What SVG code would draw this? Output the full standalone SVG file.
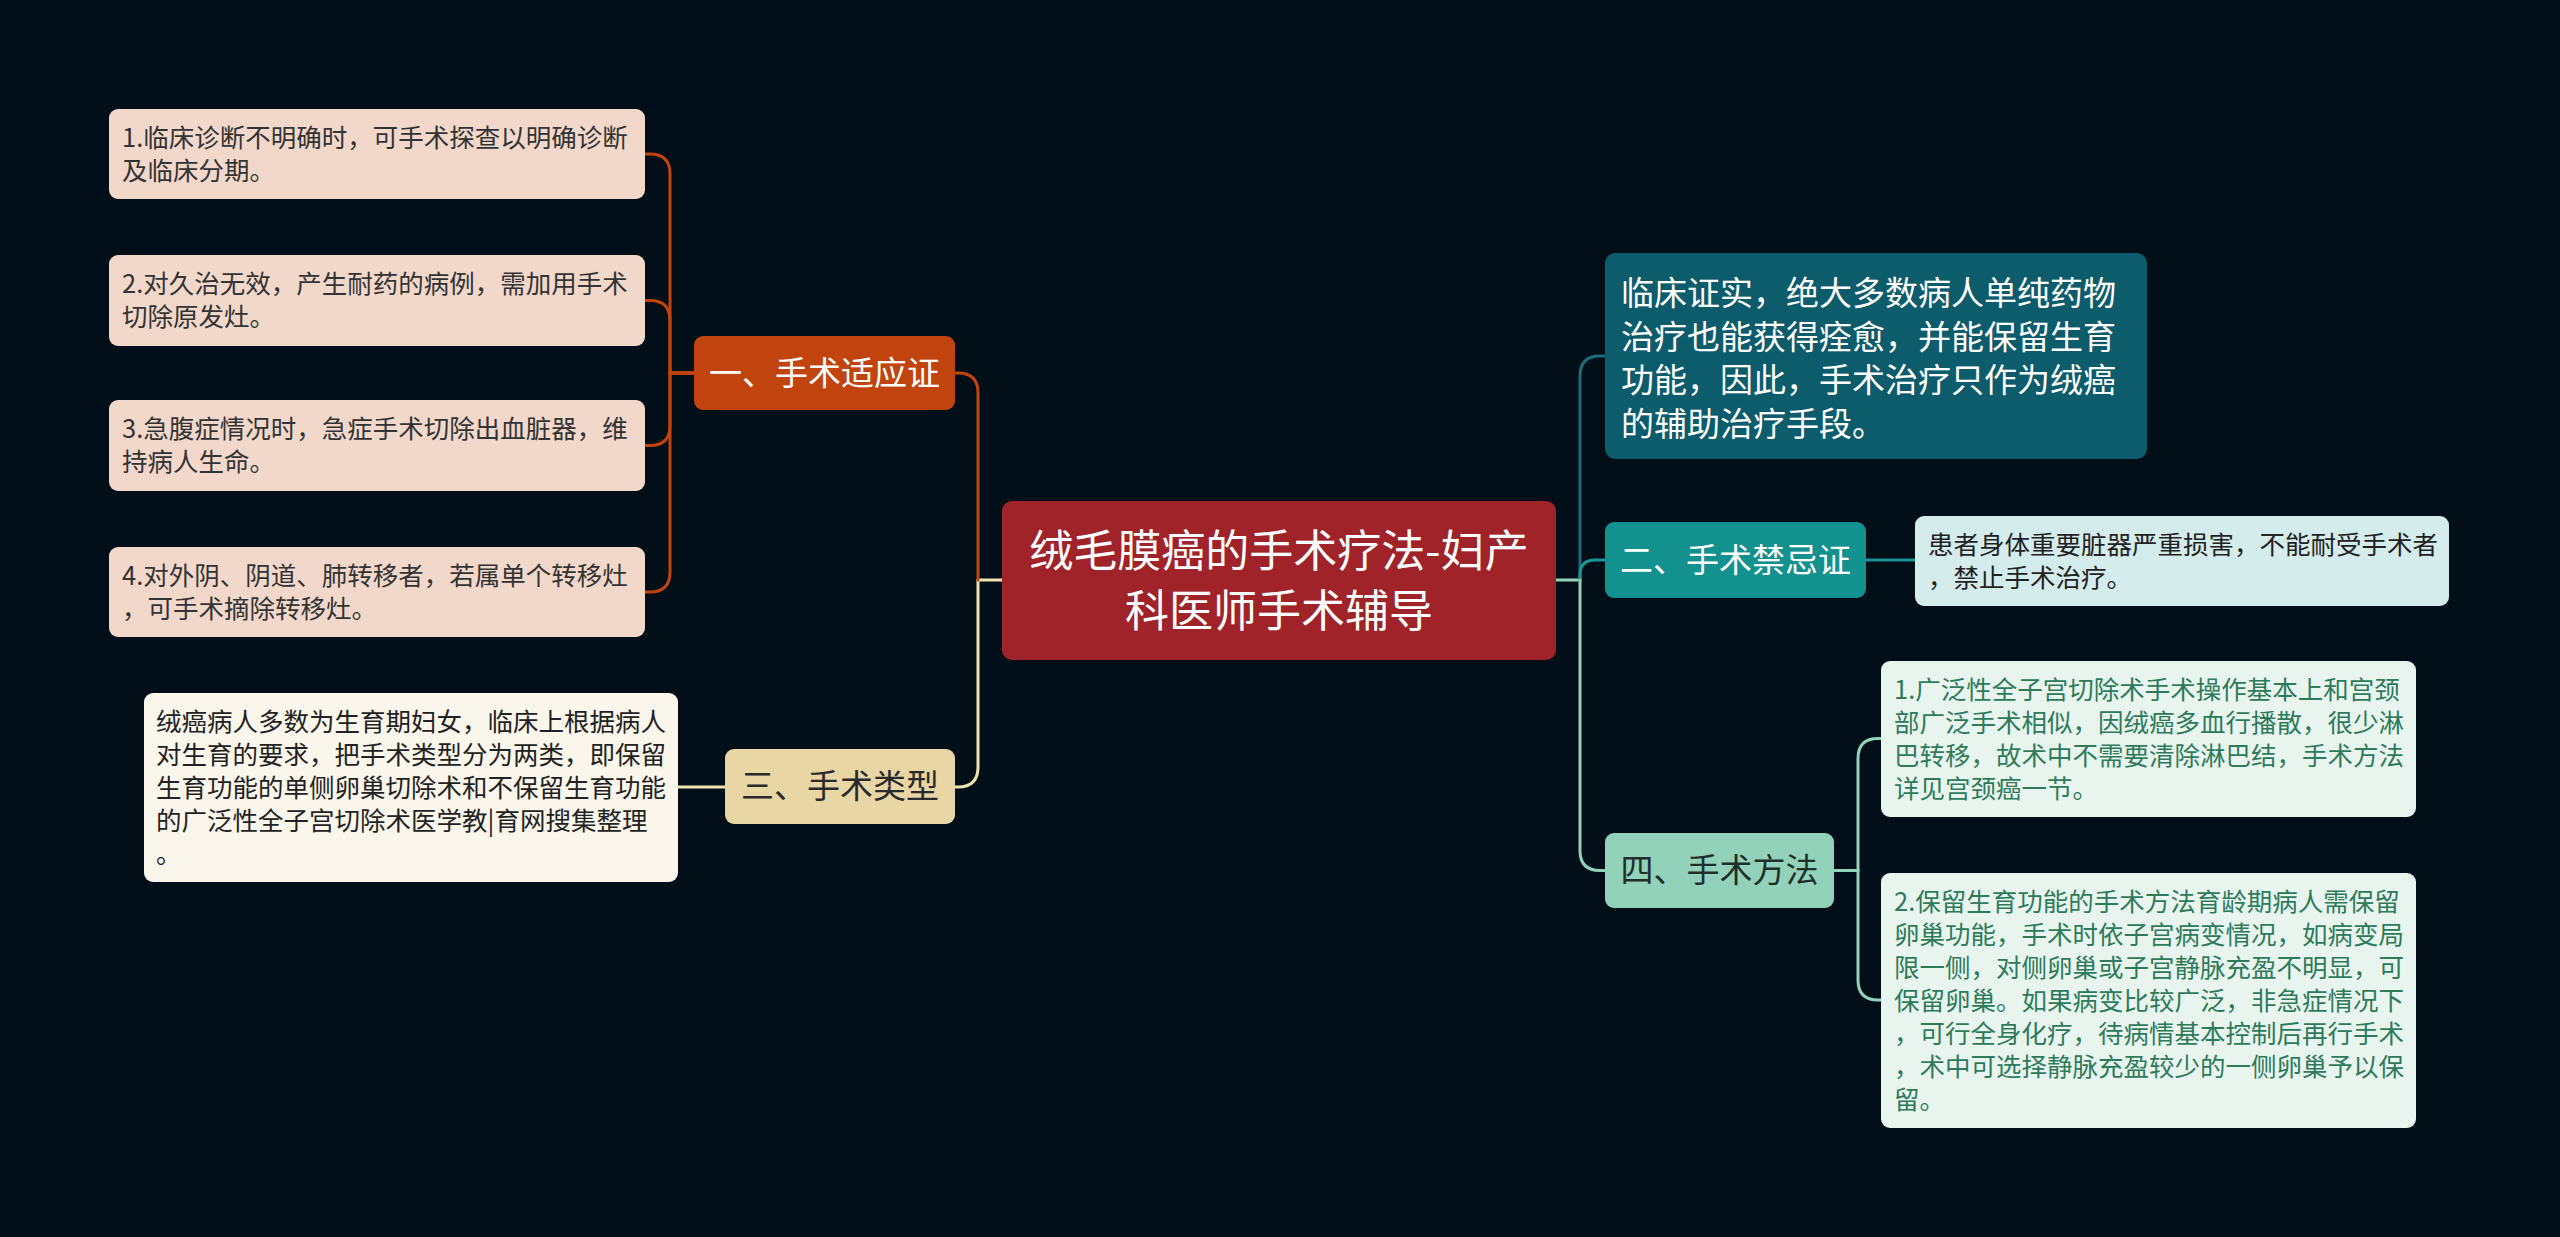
<svg xmlns="http://www.w3.org/2000/svg" width="2560" height="1237" viewBox="0 0 2560 1237">
<style>
text{font-family:"Noto Sans CJK SC","Noto Sans",sans-serif;}
.c{fill:none;stroke-width:3;stroke-linecap:round;}
.t26{font-size:25.5px;}
.node{font-size:33px;text-anchor:middle;}
</style>
<rect x="0" y="0" width="2560" height="1237" fill="#020F18"/>
<g id="connectors">
<path class="c" stroke="#F0E3B2" d="M1002,580 H978"/>
<path class="c" stroke="#F0E3B2" d="M978,580 V767 Q978,787 958,787 H955"/>
<path class="c" stroke="#C1440E" d="M978,580 V393 Q978,373 958,373 H955"/>
<path class="c" stroke="#C1440E" d="M694,373 H670 V174 Q670,154 650,154 H645"/>
<path class="c" stroke="#C1440E" d="M694,373 H670 V320.5 Q670,300.5 650,300.5 H645"/>
<path class="c" stroke="#C1440E" d="M694,373 H670 V425.5 Q670,445.5 650,445.5 H645"/>
<path class="c" stroke="#C1440E" d="M694,373 H670 V572 Q670,592 650,592 H645"/>
<path class="c" stroke="#F0E3B2" d="M725,787 H678"/>
<path class="c" stroke="#93D2BA" d="M1556,580 H1580"/>
<path class="c" stroke="#1F6B7B" d="M1580,580 V376 Q1580,356 1600,356 H1605"/>
<path class="c" stroke="#1C9692" d="M1580,580 V575 Q1580,560 1595,560 H1605"/>
<path class="c" stroke="#93D2BA" d="M1580,580 V850.5 Q1580,870.5 1600,870.5 H1605"/>
<path class="c" stroke="#1C9692" d="M1866,560 H1915"/>
<path class="c" stroke="#93D2BA" d="M1834,870.5 H1858 V758.5 Q1858,738.5 1878,738.5 H1881"/>
<path class="c" stroke="#93D2BA" d="M1834,870.5 H1858 V980 Q1858,1000 1878,1000 H1881"/>
</g>
<g id="central">
<rect x="1002" y="501" width="554" height="159" rx="10" fill="#A0232A"/>
<text x="1279" y="567" font-size="44" fill="#FFFFFF" text-anchor="middle">绒毛膜癌的手术疗法-妇产</text>
<text x="1279" y="627" font-size="44" fill="#FFFFFF" text-anchor="middle">科医师手术辅导</text>
</g>
<g id="node1">
<rect x="694" y="336" width="261" height="74" rx="9" fill="#C1440E"/>
<text class="node" x="824.5" y="385" fill="#FFFFFF">一、手术适应证</text>
</g>
<g id="node1-1">
<rect x="109" y="109" width="536" height="90" rx="9" fill="#F1D8CB"/>
<text class="t26" x="122" y="147" fill="#333333">1.临床诊断不明确时，可手术探查以明确诊断</text>
<text class="t26" x="122" y="180" fill="#333333">及临床分期。</text>
</g>
<g id="node1-2">
<rect x="109" y="255" width="536" height="91" rx="9" fill="#F1D8CB"/>
<text class="t26" x="122" y="293" fill="#333333">2.对久治无效，产生耐药的病例，需加用手术</text>
<text class="t26" x="122" y="326" fill="#333333">切除原发灶。</text>
</g>
<g id="node1-3">
<rect x="109" y="400" width="536" height="91" rx="9" fill="#F1D8CB"/>
<text class="t26" x="122" y="438" fill="#333333">3.急腹症情况时，急症手术切除出血脏器，维</text>
<text class="t26" x="122" y="471" fill="#333333">持病人生命。</text>
</g>
<g id="node1-4">
<rect x="109" y="547" width="536" height="90" rx="9" fill="#F1D8CB"/>
<text class="t26" x="122" y="585" fill="#333333">4.对外阴、阴道、肺转移者，若属单个转移灶</text>
<text class="t26" x="122" y="618" fill="#333333">，可手术摘除转移灶。</text>
</g>
<g id="node3">
<rect x="725" y="749" width="230" height="75" rx="9" fill="#E8D6A4"/>
<text class="node" x="840" y="798" fill="#2A2A2A">三、手术类型</text>
</g>
<g id="node3-1">
<rect x="144" y="693" width="534" height="189" rx="9" fill="#FAF6EC"/>
<text class="t26" x="156" y="731" fill="#222222">绒癌病人多数为生育期妇女，临床上根据病人</text>
<text class="t26" x="156" y="764" fill="#222222">对生育的要求，把手术类型分为两类，即保留</text>
<text class="t26" x="156" y="797" fill="#222222">生育功能的单侧卵巢切除术和不保留生育功能</text>
<text class="t26" x="156" y="830" fill="#222222">的广泛性全子宫切除术医学教|育网搜集整理</text>
<text class="t26" x="156" y="863" fill="#222222">。</text>
</g>
<g id="node0">
<rect x="1605" y="253" width="542" height="206" rx="10" fill="#0D5C6C"/>
<text x="1621" y="305" font-size="33" fill="#FFFFFF">临床证实，绝大多数病人单纯药物</text>
<text x="1621" y="348.5" font-size="33" fill="#FFFFFF">治疗也能获得痊愈，并能保留生育</text>
<text x="1621" y="392" font-size="33" fill="#FFFFFF">功能，因此，手术治疗只作为绒癌</text>
<text x="1621" y="435.5" font-size="33" fill="#FFFFFF">的辅助治疗手段。</text>
</g>
<g id="node2">
<rect x="1605" y="522" width="261" height="76" rx="9" fill="#13918F"/>
<text class="node" x="1735.5" y="572" fill="#FFFFFF">二、手术禁忌证</text>
</g>
<g id="node2-1">
<rect x="1915" y="516" width="534" height="90" rx="9" fill="#D4ECEC"/>
<text class="t26" x="1928" y="554" fill="#222222">患者身体重要脏器严重损害，不能耐受手术者</text>
<text class="t26" x="1928" y="587" fill="#222222">，禁止手术治疗。</text>
</g>
<g id="node4">
<rect x="1605" y="833" width="229" height="75" rx="9" fill="#93D2BA"/>
<text class="node" x="1719.5" y="882" fill="#1F2F2A">四、手术方法</text>
</g>
<g id="node4-1">
<rect x="1881" y="661" width="535" height="156" rx="9" fill="#E8F5EF"/>
<text class="t26" x="1894" y="699" fill="#2E7A5A">1.广泛性全子宫切除术手术操作基本上和宫颈</text>
<text class="t26" x="1894" y="732" fill="#2E7A5A">部广泛手术相似，因绒癌多血行播散，很少淋</text>
<text class="t26" x="1894" y="765" fill="#2E7A5A">巴转移，故术中不需要清除淋巴结，手术方法</text>
<text class="t26" x="1894" y="798" fill="#2E7A5A">详见宫颈癌一节。</text>
</g>
<g id="node4-2">
<rect x="1881" y="873" width="535" height="255" rx="9" fill="#E8F5EF"/>
<text class="t26" x="1894" y="911" fill="#2E7A5A">2.保留生育功能的手术方法育龄期病人需保留</text>
<text class="t26" x="1894" y="944" fill="#2E7A5A">卵巢功能，手术时依子宫病变情况，如病变局</text>
<text class="t26" x="1894" y="977" fill="#2E7A5A">限一侧，对侧卵巢或子宫静脉充盈不明显，可</text>
<text class="t26" x="1894" y="1010" fill="#2E7A5A">保留卵巢。如果病变比较广泛，非急症情况下</text>
<text class="t26" x="1894" y="1043" fill="#2E7A5A">，可行全身化疗，待病情基本控制后再行手术</text>
<text class="t26" x="1894" y="1076" fill="#2E7A5A">，术中可选择静脉充盈较少的一侧卵巢予以保</text>
<text class="t26" x="1894" y="1109" fill="#2E7A5A">留。</text>
</g>
</svg>
